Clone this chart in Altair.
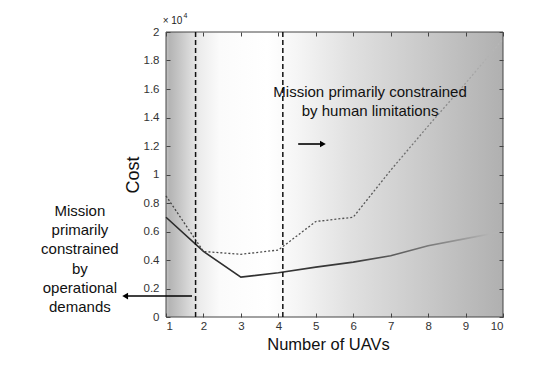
import altair as alt
import pandas as pd

# ---- data (cost in units of 1e4) ----
uavs = [1, 2, 3, 4, 5, 6, 7, 8, 9, 10]
cost_solid = [0.70, 0.46, 0.28, 0.31, 0.35, 0.385, 0.43, 0.50, 0.55, 0.60]
cost_dotted = [0.85, 0.46, 0.44, 0.47, 0.67, 0.70, 1.03, 1.34, 1.64, 1.95]
thresholds = [1.79, 4.12]

right_text = ["Mission primarily constrained", "by human limitations"]
right_text_x = [6.45, 6.45]
right_text_y = [1.58, 1.445]
left_text = ["Mission", "primarily", "constrained", "by", "operational", "demands"]
left_text_x = [-1.30] * 6
left_text_y = [0.746, 0.61, 0.477, 0.337, 0.204, 0.07]

FONT = "Liberation Sans"
xs = alt.Scale(domain=[1, 10], nice=False, zero=False)
ys = alt.Scale(domain=[0, 2], nice=False, zero=False)

bg_grad = alt.Gradient(
    gradient="linear", x1=0, x2=1, y1=0, y2=0,
    stops=[
        alt.GradientStop(offset=0.0, color="#c4c4c4"),
        alt.GradientStop(offset=0.01, color="#b4b4b4"),
        alt.GradientStop(offset=0.05, color="#cccccc"),
        alt.GradientStop(offset=0.10, color="#ececec"),
        alt.GradientStop(offset=0.16, color="#fbfbfb"),
        alt.GradientStop(offset=0.30, color="#ffffff"),
        alt.GradientStop(offset=0.40, color="#f4f4f4"),
        alt.GradientStop(offset=0.55, color="#e0e0e0"),
        alt.GradientStop(offset=0.75, color="#cbcbcb"),
        alt.GradientStop(offset=1.0, color="#b0b0b0"),
    ],
)

bg = alt.Chart(pd.DataFrame({"x": [1], "x2": [10], "y": [0], "y2": [2]})).mark_rect(
    fill=bg_grad, stroke="#444444", strokeWidth=1
).encode(
    x=alt.X("x:Q", scale=xs, title="Number of UAVs",
            axis=alt.Axis(orient="bottom", values=uavs, offset=-4, tickSize=4, labelPadding=3,
                          domain=False, grid=False, zindex=2, tickColor="#444444",
                          labelColor="#333333", labelFontSize=11.5, labelFont=FONT,
                          titleFont=FONT, titleFontSize=16.5, titleFontWeight="normal",
                          titleColor="#111111", titlePadding=5, titleX=162)),
    x2="x2:Q",
    y=alt.Y("y:Q", scale=ys, title="Cost",
            axis=alt.Axis(orient="left", values=[i / 5 for i in range(11)], format="~g",
                          offset=-4, tickSize=4, labelPadding=7, domain=False, grid=False,
                          zindex=2, tickColor="#444444", labelColor="#333333",
                          labelFontSize=11.5, labelFont=FONT, titleFont=FONT,
                          titleFontSize=18, titleFontWeight="normal", titleColor="#111111",
                          titlePadding=1)),
    y2="y2:Q",
)

df = pd.DataFrame({"uavs": uavs, "solid": cost_solid, "dotted": cost_dotted})

solid_grad = alt.Gradient(
    gradient="linear", x1=0, x2=1, y1=0, y2=0,
    stops=[
        alt.GradientStop(offset=0.0, color="#2a2a2a"),
        alt.GradientStop(offset=0.55, color="#3a3a3a"),
        alt.GradientStop(offset=0.75, color="#707070"),
        alt.GradientStop(offset=0.90, color="#a0a0a0"),
        alt.GradientStop(offset=0.96, color="#b4b4b4"),
        alt.GradientStop(offset=1.0, color="#b4b4b4"),
    ],
)
dotted_grad = alt.Gradient(
    gradient="linear", x1=0, x2=1, y1=0, y2=0,
    stops=[
        alt.GradientStop(offset=0.0, color="#444444"),
        alt.GradientStop(offset=0.6, color="#555555"),
        alt.GradientStop(offset=0.8, color="#858585"),
        alt.GradientStop(offset=0.92, color="#a8a8a8"),
        alt.GradientStop(offset=0.97, color="#b6b6b6"),
        alt.GradientStop(offset=1.0, color="#b6b6b6"),
    ],
)

solid = alt.Chart(df).mark_line(stroke=solid_grad, strokeWidth=1.6).encode(
    x=alt.X("uavs:Q", scale=xs,
            axis=alt.Axis(orient="top", values=uavs, offset=-4, tickSize=4, labels=False,
                          domain=False, grid=False, zindex=2, tickColor="#444444", title=None)),
    y=alt.Y("solid:Q", scale=ys,
            axis=alt.Axis(orient="right", values=[i / 5 for i in range(11)], offset=-4,
                          tickSize=4, labels=False, domain=False, grid=False, zindex=2,
                          tickColor="#444444", title=None)),
)

dotted = alt.Chart(df).mark_line(stroke=dotted_grad, strokeWidth=1.3, strokeDash=[2, 2]).encode(
    x=alt.X("uavs:Q", scale=xs, axis=None),
    y=alt.Y("dotted:Q", scale=ys, axis=None),
)

vlines = alt.Chart(pd.DataFrame({"t": thresholds})).mark_rule(
    color="#111111", strokeWidth=1.5, strokeDash=[5, 3]
).encode(
    x=alt.X("t:Q", scale=xs, axis=None),
    y=alt.value(0), y2=alt.value(285),
)

# arrows
arrows = pd.DataFrame({"x": [4.53, -0.05], "x2": [5.15, 1.695], "y": [1.214, 0.147]})
shafts = alt.Chart(arrows).mark_rule(color="black", strokeWidth=1.6).encode(
    x=alt.X("x:Q", scale=xs, axis=None), x2="x2:Q",
    y=alt.Y("y:Q", scale=ys, axis=None),
)
heads = pd.DataFrame({"x": [5.19, -0.09], "y": [1.214, 0.147], "shape": ["triangle-right", "triangle-left"]})
arrowheads = alt.Chart(heads).mark_point(filled=True, color="black", opacity=1, size=45).encode(
    x=alt.X("x:Q", scale=xs, axis=None),
    y=alt.Y("y:Q", scale=ys, axis=None),
    shape=alt.Shape("shape:N", scale=None),
)

rt = alt.Chart(pd.DataFrame({"t": right_text, "x": right_text_x, "y": right_text_y})).mark_text(
    font=FONT, fontSize=15, color="#111111", align="center", baseline="middle"
).encode(x=alt.X("x:Q", scale=xs, axis=None), y=alt.Y("y:Q", scale=ys, axis=None), text="t:N")

lt = alt.Chart(pd.DataFrame({"t": left_text, "x": left_text_x, "y": left_text_y})).mark_text(
    font=FONT, fontSize=15, color="#111111", align="center", baseline="middle"
).encode(x=alt.X("x:Q", scale=xs, axis=None), y=alt.Y("y:Q", scale=ys, axis=None), text="t:N")

exp_df = pd.DataFrame({"t": ["\u00d7 10", "4"], "x": [0.91, 1.47], "y": [2.075, 2.115], "s": [10, 7]})
exp_text = alt.Chart(exp_df).mark_text(
    font=FONT, color="#222222", align="left", baseline="middle"
).encode(x=alt.X("x:Q", scale=xs, axis=None), y=alt.Y("y:Q", scale=ys, axis=None),
         text="t:N", size=alt.Size("s:Q", scale=None))

chart = alt.layer(bg, solid, dotted, vlines, shafts, arrowheads, rt, lt, exp_text).properties(
    width=337, height=285,
    padding={"left": 158, "top": 24, "right": 30, "bottom": 40},
    autosize=alt.AutoSizeParams(type="none"),
    background="white",
).configure_view(stroke=None)

chart.save("out.html", embed_options={"renderer": "svg", "actions": False})
